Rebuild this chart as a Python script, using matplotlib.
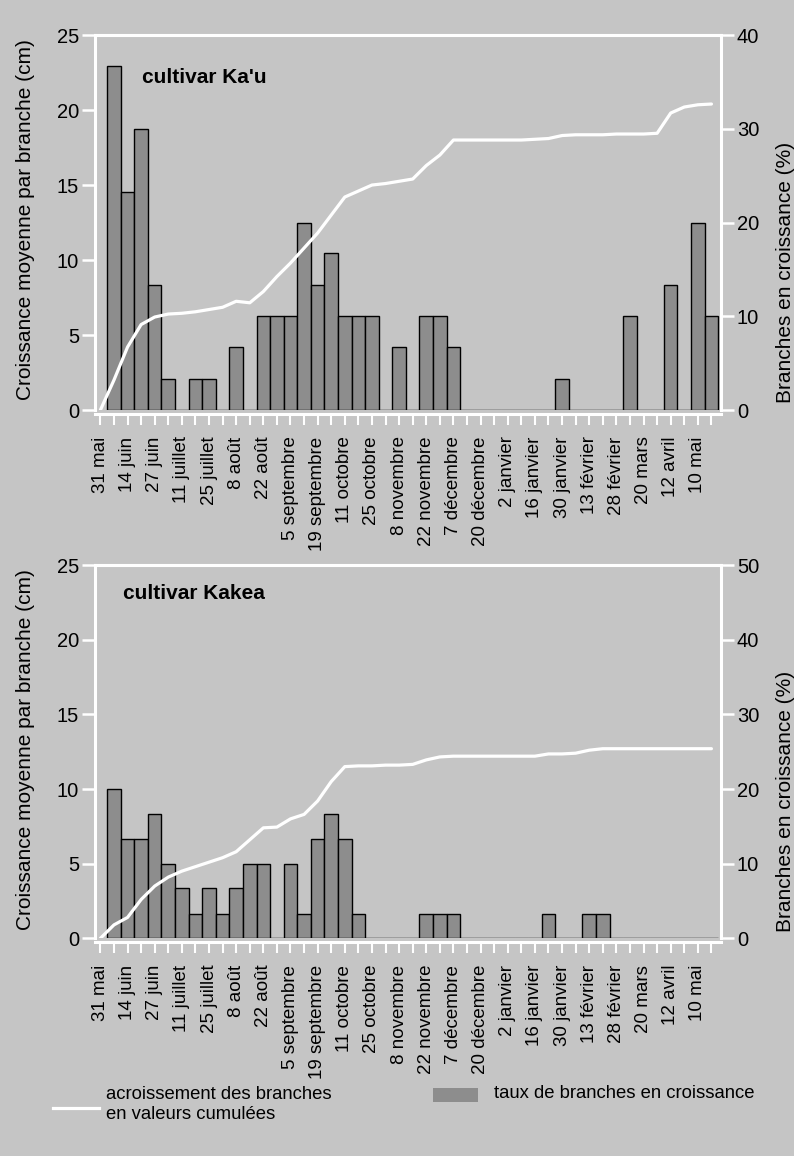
import numpy as np
import matplotlib.pyplot as plt
from matplotlib.lines import Line2D
from matplotlib.patches import Rectangle

plt.rcParams['font.family'] = ['Liberation Sans', 'DejaVu Sans']

BG = '#c5c5c5'     # grey page
BAR = '#8d8d8d'    # bar fill

# -- 1. Data --
# date labels, one every two weeks
dates = ['31 mai', '14 juin', '27 juin', '11 juillet', '25 juillet', '8 août',
         '22 août', '5 septembre', '19 septembre', '11 octobre', '25 octobre',
         '8 novembre', '22 novembre', '7 décembre', '20 décembre', '2 janvier',
         '16 janvier', '30 janvier', '13 février', '28 février', '20 mars',
         '12 avril', '10 mai']

# weekly rate of growing branches (%)
kau_taux = [36.7, 23.3, 30.0, 13.3, 3.3, 0, 3.3, 3.3, 0, 6.7,
            0, 10.0, 10.0, 10.0, 20.0, 13.3, 16.7, 10.0, 10.0, 10.0,
            0, 6.7, 0, 10.0, 10.0, 6.7, 0, 0, 0, 0,
            0, 0, 0, 3.3, 0, 0, 0, 0, 10.0, 0,
            0, 13.3, 0, 20.0, 10.0]
kakea_taux = [20.0, 13.3, 13.3, 16.7, 10.0, 6.7, 3.3, 6.7, 3.3, 6.7,
              10.0, 10.0, 0, 10.0, 3.3, 13.3, 16.7, 13.3, 3.3, 0,
              0, 0, 0, 3.3, 3.3, 3.3, 0, 0, 0, 0,
              0, 0, 3.3, 0, 0, 3.3, 3.3, 0, 0, 0,
              0, 0, 0, 0, 0]

# cumulative branch growth (cm), one reading per week from 31 mai
kau_cumul = [0, 2.0, 4.2, 5.7, 6.2, 6.4, 6.45, 6.55, 6.7, 6.85,
             7.25, 7.15, 7.9, 8.9, 9.8, 10.8, 11.8, 13.0, 14.2, 14.6,
             15.0, 15.1, 15.25, 15.4, 16.3, 17.0, 18.0, 18.0, 18.0, 18.0,
             18.0, 18.0, 18.05, 18.1, 18.3, 18.35, 18.35, 18.35, 18.4, 18.4,
             18.4, 18.45, 19.8, 20.2, 20.35, 20.4]
kakea_cumul = [0, 0.9, 1.4, 2.6, 3.5, 4.1, 4.5, 4.8, 5.1, 5.4,
               5.8, 6.6, 7.4, 7.45, 8.0, 8.3, 9.2, 10.5, 11.5, 11.55,
               11.55, 11.6, 11.6, 11.65, 11.95, 12.15, 12.2, 12.2, 12.2, 12.2,
               12.2, 12.2, 12.2, 12.35, 12.35, 12.4, 12.6, 12.7, 12.7, 12.7,
               12.7, 12.7, 12.7, 12.7, 12.7, 12.7]

weeks = np.arange(len(kau_cumul))
bar_pos = np.arange(1, len(kau_taux) + 1)
label_pos = np.arange(0, 2 * len(dates), 2)

fig = plt.figure(figsize=(7.94, 11.56), dpi=100, facecolor=BG)


def draw_panel(rect, taux, cumul, pct_max, title, title_xy):
    ax = fig.add_axes(rect)
    ax2 = ax.twinx()

    ax2.bar(bar_pos, taux, width=1.0, color=BAR, edgecolor='black', linewidth=1.0)
    ax.plot(weeks, cumul, color='white', lw=2.3, solid_capstyle='round')

    # line axis drawn above the bars
    ax.set_zorder(ax2.get_zorder() + 1)
    ax.patch.set_visible(False)
    ax2.patch.set_visible(False)

    ax.set_xlim(-0.4, 45.7)
    ax.set_ylim(0, 25)
    ax.set_yticks(range(0, 26, 5))
    ax2.set_ylim(0, pct_max)
    ax2.set_yticks(range(0, pct_max + 1, 10))

    for a in (ax, ax2):
        for s in a.spines.values():
            s.set_color('white')
            s.set_linewidth(2.2)
        a.tick_params(axis='y', direction='out', length=9.4, width=1.8,
                      color='white', labelsize=14.5, pad=2)
    ax.spines['right'].set_visible(False)
    ax2.spines['left'].set_visible(False)
    ax2.spines['bottom'].set_visible(False)
    ax.spines['bottom'].set_position(('outward', 3))

    ax.set_xticks(label_pos)
    ax.set_xticklabels(dates, rotation=90, fontsize=13.5)
    ax.set_xticks(weeks, minor=True)
    ax.tick_params(axis='x', which='both', direction='out', length=8,
                   width=1.5, color='white', pad=8)

    ax.set_ylabel('Croissance moyenne par branche (cm)', fontsize=15)
    ax.yaxis.set_label_coords(-0.096, 0.507)
    ax2.set_ylabel('Branches en croissance (%)', fontsize=15)
    ax2.yaxis.set_label_coords(1.088, 0.367)

    ax.text(title_xy[0], title_xy[1], title, transform=ax.transAxes,
            fontsize=15, fontweight='bold', ha='left', va='center')


draw_panel([0.1196, 0.6453, 0.7884, 0.3244], kau_taux, kau_cumul, 40,
           "cultivar Ka'u", (0.0746, 0.888))
draw_panel([0.1196, 0.1883, 0.7884, 0.3229], kakea_taux, kakea_cumul, 50,
           'cultivar Kakea', (0.045, 0.925))

# -- 2. Legend --
W, H = 794, 1156
fig.add_artist(Line2D([53 / W, 99 / W], [1 - 1108 / H] * 2, color='white', lw=2.3))
fig.text(106 / W, 1 - 1104.5 / H, 'acroissement des branches\nen valeurs cumulées',
         fontsize=13.3, ha='left', va='center', linespacing=1.25)
fig.add_artist(Rectangle((433 / W, 1 - 1101.5 / H), 45 / W, 13.5 / H,
                         transform=fig.transFigure, color=BAR, lw=0))
fig.text(494 / W, 1 - 1094 / H, 'taux de branches en croissance',
         fontsize=13.3, ha='left', va='center')

fig.savefig('out.png', dpi=100, facecolor=BG)
